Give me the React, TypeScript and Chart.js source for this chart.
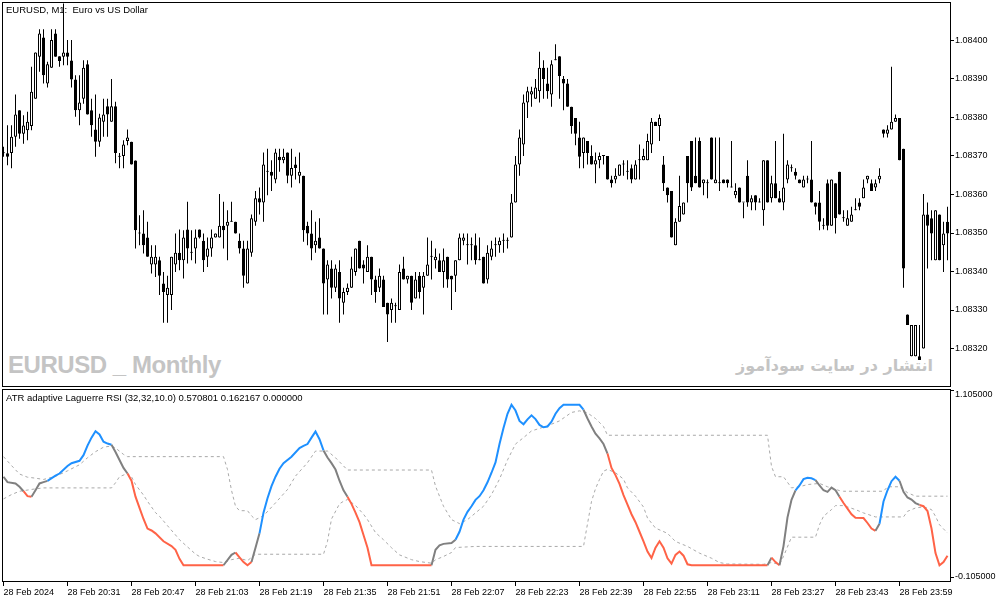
import React, { useEffect, useRef } from 'react';
import Chart from 'chart.js/auto';

// EURUSD M1 candles, bar 0 = 28 Feb 20:15
const open = [
  1.083707, 1.083707, 1.083708, 1.08375, 1.083819, 1.083758, 1.083767, 1.083778, 1.083849, 1.083958,
  1.084008, 1.083888, 1.083929, 1.084018, 1.083959, 1.083958, 1.083969, 1.083948, 1.083899, 1.083819,
  1.083849, 1.083938, 1.083819, 1.083769, 1.083737, 1.083789, 1.083829, 1.083789, 1.083829, 1.083698,
  1.0837, 1.083739, 1.083737, 1.083688, 1.083499, 1.083499, 1.083488, 1.083418, 1.083418, 1.083429,
  1.083369, 1.083339, 1.083339, 1.083418, 1.083449, 1.083429, 1.083509, 1.083449, 1.08346, 1.083509,
  1.08348, 1.083438, 1.08346, 1.083488, 1.083488, 1.083519, 1.083519, 1.083529, 1.083529, 1.08348,
  1.08346, 1.083369, 1.083449, 1.083529, 1.08359, 1.083579, 1.083659, 1.083659, 1.083639, 1.083698,
  1.083689, 1.083709, 1.083649, 1.083678, 1.083649, 1.083649, 1.083519, 1.083499, 1.083468, 1.083488,
  1.08346, 1.083379, 1.083408, 1.083358, 1.083399, 1.083319, 1.083347, 1.083358, 1.083399, 1.08348,
  1.083418, 1.083399, 1.083438, 1.083379, 1.083358, 1.083379, 1.083319, 1.0833, 1.08331, 1.0833,
  1.083408, 1.083379, 1.083389, 1.08333, 1.083389, 1.083358, 1.083389, 1.083438, 1.083429, 1.083429,
  1.083399, 1.083438, 1.083389, 1.083389, 1.083429, 1.08348, 1.083468, 1.083468, 1.083468, 1.083429,
  1.083438, 1.083379, 1.083438, 1.083468, 1.083468, 1.08348, 1.08348, 1.083488, 1.083579, 1.083678,
  1.08373, 1.083839, 1.08386, 1.083849, 1.083868, 1.083929, 1.083888, 1.08386, 1.083949, 1.083959,
  1.0839, 1.083888, 1.083828, 1.083799, 1.083748, 1.083708, 1.083739, 1.0837, 1.083678, 1.083689,
  1.0837, 1.0837, 1.083639, 1.083639, 1.083649, 1.083678, 1.083659, 1.083668, 1.083639, 1.083689,
  1.083689, 1.083689, 1.08373, 1.083789, 1.083778, 1.083678, 1.083618, 1.083609, 1.083468, 1.083529,
  1.083548, 1.0837, 1.083739, 1.083649, 1.083739, 1.083629, 1.083629, 1.083748, 1.083629, 1.083629,
  1.083639, 1.083639, 1.083618, 1.083598, 1.083618, 1.083579, 1.083649, 1.083579, 1.083598, 1.083579,
  1.083559, 1.083689, 1.08359, 1.083629, 1.08359, 1.083579, 1.083639, 1.083668, 1.083659, 1.083639,
  1.083618, 1.083639, 1.083639, 1.083579, 1.083579, 1.083519, 1.083629, 1.083519, 1.083629, 1.083659,
  1.083538, 1.083519, 1.083529, 1.083559, 1.083579, 1.08359, 1.083639, 1.083629, 1.083618, 1.083639,
  1.083769, 1.083758, 1.083769, 1.083789, 1.083799, 1.083719, 1.083288, 1.08318, 1.08318, 1.08318,
  1.0832, 1.083548, 1.083538, 1.083429, 1.083548, 1.083468, 1.083529,
];
const high = [
  1.083724, 1.08378, 1.08378, 1.08386, 1.083819, 1.083806, 1.083815, 1.083932, 1.083969, 1.084029,
  1.084029, 1.083945, 1.084029, 1.084029, 1.083959, 1.084096, 1.084001, 1.084001, 1.08391, 1.08391,
  1.083949, 1.083949, 1.083849, 1.08386, 1.08381, 1.083849, 1.083849, 1.0839, 1.083841, 1.083708,
  1.083741, 1.083769, 1.083737, 1.083688, 1.083546, 1.083559, 1.083529, 1.083468, 1.083468, 1.083438,
  1.083399, 1.083389, 1.083438, 1.083499, 1.083509, 1.083507, 1.083581, 1.083507, 1.083509, 1.083509,
  1.083499, 1.083488, 1.083509, 1.083499, 1.083601, 1.083581, 1.083559, 1.083581, 1.083529, 1.083499,
  1.08348, 1.08348, 1.083548, 1.083609, 1.083618, 1.083709, 1.083719, 1.083689, 1.083719, 1.083719,
  1.083719, 1.083709, 1.083719, 1.083698, 1.083709, 1.083649, 1.083529, 1.083559, 1.083529, 1.083538,
  1.08346, 1.083429, 1.083429, 1.083418, 1.083429, 1.083358, 1.083369, 1.083438, 1.08346, 1.08348,
  1.083429, 1.083468, 1.083438, 1.083389, 1.083408, 1.083389, 1.083319, 1.08333, 1.083319, 1.083418,
  1.083438, 1.083389, 1.083389, 1.083399, 1.083399, 1.083399, 1.083488, 1.08348, 1.08346, 1.083447,
  1.08346, 1.083438, 1.083389, 1.083429, 1.083499, 1.083499, 1.083499, 1.083488, 1.083499, 1.083488,
  1.083438, 1.083468, 1.08348, 1.083488, 1.083488, 1.083499, 1.083488, 1.083601, 1.0837, 1.083769,
  1.08386, 1.08388, 1.08388, 1.0839, 1.083971, 1.083949, 1.083929, 1.083949, 1.08399, 1.083959,
  1.083908, 1.0839, 1.083828, 1.083799, 1.083789, 1.083748, 1.083739, 1.083728, 1.083709, 1.083709,
  1.0837, 1.0837, 1.083649, 1.083668, 1.083678, 1.083689, 1.083689, 1.083678, 1.083689, 1.08373,
  1.083719, 1.083758, 1.083799, 1.083789, 1.083808, 1.0837, 1.083618, 1.083609, 1.083538, 1.083649,
  1.083579, 1.0837, 1.083739, 1.083748, 1.083748, 1.083639, 1.083639, 1.083748, 1.083748, 1.083748,
  1.083639, 1.083639, 1.083739, 1.083629, 1.083618, 1.083579, 1.083689, 1.083598, 1.083598, 1.08359,
  1.083689, 1.083689, 1.083649, 1.083739, 1.083609, 1.083758, 1.083689, 1.083678, 1.083668, 1.083639,
  1.083649, 1.083649, 1.083739, 1.083579, 1.083609, 1.083538, 1.083639, 1.083639, 1.083629, 1.083659,
  1.083559, 1.083559, 1.083568, 1.08359, 1.08359, 1.083639, 1.083649, 1.083639, 1.083639, 1.083668,
  1.083769, 1.08378, 1.083932, 1.083808, 1.083799, 1.083719, 1.083288, 1.083261, 1.083261, 1.083261,
  1.083601, 1.083579, 1.083559, 1.083559, 1.083548, 1.083529, 1.083568,
];
const low = [
  1.083698, 1.083676, 1.083668, 1.083724, 1.083745, 1.083732, 1.083741, 1.083767, 1.083849, 1.083919,
  1.083888, 1.083878, 1.083929, 1.083958, 1.083932, 1.083936, 1.083936, 1.083878, 1.083802, 1.08378,
  1.083836, 1.083808, 1.08375, 1.083698, 1.083724, 1.08375, 1.08375, 1.083789, 1.083681, 1.083668,
  1.083668, 1.083728, 1.083678, 1.08346, 1.083468, 1.083447, 1.083438, 1.083395, 1.083386, 1.083339,
  1.083267, 1.083267, 1.0833, 1.083399, 1.083403, 1.083382, 1.083421, 1.083429, 1.083421, 1.083486,
  1.083399, 1.083412, 1.083438, 1.083488, 1.083488, 1.08346, 1.083429, 1.083529, 1.083499, 1.083447,
  1.083358, 1.083369, 1.083438, 1.083519, 1.083548, 1.083529, 1.083598, 1.083609, 1.083629, 1.083659,
  1.083681, 1.083629, 1.083618, 1.083639, 1.083629, 1.083477, 1.083468, 1.083429, 1.083449, 1.08346,
  1.083288, 1.083288, 1.08333, 1.083347, 1.083267, 1.083288, 1.083339, 1.083358, 1.083389, 1.083408,
  1.083369, 1.083399, 1.083339, 1.083319, 1.083347, 1.083308, 1.083217, 1.083267, 1.083267, 1.0833,
  1.083379, 1.083369, 1.0833, 1.08333, 1.08333, 1.083288, 1.083389, 1.083379, 1.083408, 1.083399,
  1.083358, 1.083358, 1.0833, 1.083347, 1.083429, 1.083468, 1.083418, 1.083429, 1.083418, 1.083429,
  1.083369, 1.083369, 1.083429, 1.083438, 1.083449, 1.083449, 1.08346, 1.083488, 1.083579, 1.083649,
  1.0837, 1.083799, 1.083828, 1.083849, 1.083839, 1.083849, 1.083849, 1.083828, 1.083949, 1.083849,
  1.083819, 1.083828, 1.083758, 1.083728, 1.083668, 1.083668, 1.083678, 1.083678, 1.083629, 1.083668,
  1.083678, 1.083639, 1.083618, 1.083629, 1.083649, 1.083649, 1.083639, 1.083629, 1.083639, 1.083639,
  1.083689, 1.083689, 1.083708, 1.083778, 1.083739, 1.083609, 1.083579, 1.083488, 1.083468, 1.083529,
  1.083548, 1.083579, 1.083609, 1.083629, 1.083618, 1.083598, 1.08359, 1.083639, 1.083629, 1.083609,
  1.083629, 1.083618, 1.083618, 1.08359, 1.083579, 1.083538, 1.083568, 1.083559, 1.083559, 1.083579,
  1.083519, 1.083579, 1.083579, 1.08359, 1.083579, 1.083559, 1.083629, 1.083659, 1.083639, 1.083629,
  1.083618, 1.083629, 1.083579, 1.083548, 1.083507, 1.083509, 1.083507, 1.083519, 1.083499, 1.083548,
  1.083529, 1.083519, 1.083529, 1.083559, 1.083559, 1.08359, 1.083629, 1.083609, 1.083609, 1.083629,
  1.083748, 1.083748, 1.083769, 1.083789, 1.083689, 1.083358, 1.083261, 1.08318, 1.08318, 1.08317,
  1.0832, 1.083408, 1.083429, 1.083429, 1.083429, 1.083399, 1.083429,
];
const close = [
  1.083707, 1.083698, 1.08375, 1.083808, 1.083758, 1.083779, 1.083789, 1.083867, 1.083969, 1.084018,
  1.08391, 1.083938, 1.084001, 1.083958, 1.083947, 1.083969, 1.083958, 1.083899, 1.083819, 1.083839,
  1.083929, 1.083808, 1.08378, 1.083737, 1.0838, 1.083808, 1.083808, 1.083829, 1.083708, 1.083698,
  1.08373, 1.083748, 1.083678, 1.083507, 1.083499, 1.083468, 1.083438, 1.083438, 1.083438, 1.083389,
  1.083347, 1.083358, 1.083438, 1.083449, 1.083429, 1.083488, 1.08346, 1.083449, 1.083488, 1.083488,
  1.083429, 1.08346, 1.083488, 1.083499, 1.083519, 1.083507, 1.083529, 1.083529, 1.083499, 1.08346,
  1.083389, 1.08346, 1.083538, 1.08359, 1.083579, 1.083678, 1.083659, 1.083649, 1.083709, 1.083689,
  1.083698, 1.083649, 1.083669, 1.083669, 1.083659, 1.083507, 1.083499, 1.08346, 1.08348, 1.08346,
  1.083369, 1.083418, 1.083358, 1.083408, 1.08333, 1.083347, 1.083358, 1.083408, 1.08346, 1.083408,
  1.083408, 1.083438, 1.083379, 1.083347, 1.083389, 1.083308, 1.083288, 1.083319, 1.08331, 1.083399,
  1.083379, 1.083389, 1.083319, 1.083379, 1.083347, 1.083389, 1.083418, 1.083438, 1.083438, 1.083399,
  1.083429, 1.083379, 1.083379, 1.083429, 1.083488, 1.083488, 1.083468, 1.083468, 1.083429, 1.083429,
  1.083369, 1.083449, 1.08346, 1.083468, 1.08348, 1.08348, 1.08348, 1.083579, 1.083678, 1.083748,
  1.083839, 1.083868, 1.083868, 1.083878, 1.083929, 1.0839, 1.083868, 1.083938, 1.083949, 1.083908,
  1.083888, 1.083828, 1.083778, 1.083758, 1.083698, 1.083748, 1.083708, 1.083678, 1.083689, 1.0837,
  1.0837, 1.083639, 1.083629, 1.083649, 1.083678, 1.083678, 1.083659, 1.083639, 1.083678, 1.083689,
  1.0837, 1.083739, 1.083789, 1.083778, 1.083799, 1.083629, 1.083598, 1.083488, 1.083529, 1.08357,
  1.083579, 1.083629, 1.083618, 1.083629, 1.083618, 1.083639, 1.083629, 1.083639, 1.083639, 1.083629,
  1.083629, 1.083629, 1.083618, 1.083609, 1.083579, 1.083579, 1.083579, 1.08359, 1.083579, 1.083579,
  1.083689, 1.083579, 1.083629, 1.08359, 1.083579, 1.083618, 1.083678, 1.083668, 1.083649, 1.083629,
  1.083639, 1.083639, 1.083579, 1.083568, 1.083529, 1.083519, 1.083519, 1.083639, 1.083538, 1.083548,
  1.083538, 1.083538, 1.083548, 1.083559, 1.083568, 1.083618, 1.083649, 1.083609, 1.083629, 1.083649,
  1.083758, 1.083769, 1.083789, 1.083799, 1.083689, 1.083408, 1.083261, 1.083261, 1.083261, 1.08317,
  1.083548, 1.083519, 1.083499, 1.083559, 1.083429, 1.083499, 1.083499,
];

const priceTicks = [1.084, 1.0839, 1.0838, 1.0837, 1.0836, 1.0835, 1.0834, 1.0833, 1.0832];
const timeTicks = [
  '28 Feb 2024', '28 Feb 20:31', '28 Feb 20:47', '28 Feb 21:03', '28 Feb 21:19',
  '28 Feb 21:35', '28 Feb 21:51', '28 Feb 22:07', '28 Feb 22:23', '28 Feb 22:39',
  '28 Feb 22:55', '28 Feb 23:11', '28 Feb 23:27', '28 Feb 23:43', '28 Feb 23:59',
];
const levelTicks = [1.105, -0.105];

// [bar, value, trend] trend: 1 up, -1 down, 0 neutral
const laguerre: [number, number, number][] = [
  [0, 0.555, 0], [1, 0.521, 0], [3, 0.513, 0], [4, 0.492, 0], [5, 0.464, -1], [6, 0.433, -1],
  [7, 0.429, 0], [8, 0.47, 0], [9, 0.513, 0], [10, 0.521, 0], [11, 0.529, 1], [13, 0.562, 1],
  [14, 0.575, 1], [16, 0.622, 1], [17, 0.64, 1], [19, 0.655, 1], [20, 0.69, 1], [21, 0.75, 1],
  [22, 0.8, 1], [23, 0.84, 1], [24, 0.82, 1], [25, 0.775, 1], [26, 0.763, 1], [27, 0.755, 0],
  [28, 0.71, 0], [29, 0.66, 0], [30, 0.61, 0], [31, 0.575, -1], [32, 0.53, -1], [33, 0.43, -1],
  [34, 0.36, -1], [35, 0.29, -1], [36, 0.23, -1], [37, 0.218, -1], [38, 0.2, -1], [40, 0.15, -1],
  [42, 0.12, -1], [43, 0.097, -1], [44, 0.04, -1], [45, 0, -1], [55, 0, 0], [57, 0.065, 0],
  [58, 0.08, -1], [59, 0.05, -1], [60, 0.02, -1], [61, 0, -1], [62, 0.02, 0], [63, 0.11, 0],
  [64, 0.2, 1], [65, 0.33, 1], [66, 0.42, 1], [67, 0.496, 1], [68, 0.555, 1], [69, 0.605, 1],
  [70, 0.64, 1], [72, 0.68, 1], [74, 0.735, 1], [75, 0.748, 1], [76, 0.76, 1], [77, 0.8, 1],
  [78, 0.838, 1], [79, 0.79, 1], [80, 0.72, 0], [81, 0.675, 0], [82, 0.64, 0], [83, 0.6, 0],
  [84, 0.53, 0], [85, 0.47, 0], [86, 0.429, -1], [87, 0.385, -1], [88, 0.33, -1], [89, 0.27, -1],
  [90, 0.19, -1], [91, 0.11, -1], [92, 0, -1], [107, 0, 0], [108, 0.097, 0], [109, 0.125, 0],
  [110, 0.134, 0], [112, 0.139, 0], [113, 0.16, 1], [114, 0.21, 1], [115, 0.286, 1], [116, 0.335, 1],
  [117, 0.37, 1], [118, 0.41, 1], [119, 0.433, 1], [120, 0.47, 1], [121, 0.52, 1], [122, 0.58, 1],
  [123, 0.645, 1], [124, 0.76, 1], [125, 0.86, 1], [126, 0.95, 1], [127, 1.006, 1], [128, 0.97, 1],
  [129, 0.905, 1], [130, 0.884, 1], [131, 0.915, 1], [132, 0.94, 1], [133, 0.916, 1], [134, 0.88, 1],
  [135, 0.865, 1], [136, 0.87, 1], [137, 0.9, 1], [138, 0.95, 1], [139, 0.985, 1], [140, 1.006, 1],
  [144, 1.006, 1], [145, 0.975, 0], [146, 0.92, 0], [147, 0.87, 0], [148, 0.825, 0], [149, 0.795, 0],
  [150, 0.76, 0], [151, 0.7, -1], [152, 0.61, -1], [153, 0.565, -1], [154, 0.51, -1], [155, 0.44, -1],
  [156, 0.38, -1], [157, 0.32, -1], [158, 0.27, -1], [159, 0.21, -1], [160, 0.15, -1], [161, 0.086, -1],
  [162, 0.045, -1], [163, 0.11, -1], [164, 0.15, -1], [165, 0.11, -1], [166, 0.044, -1], [167, 0.01, -1],
  [168, 0.065, -1], [169, 0.086, -1], [170, 0.06, -1], [171, 0.006, -1], [172, 0, -1], [191, 0, 0],
  [192, 0.048, -1], [193, 0.02, -1], [194, 0, 0], [195, 0.12, 0], [196, 0.3, 0], [197, 0.41, 0],
  [198, 0.47, 1], [199, 0.5, 1], [200, 0.54, 1], [201, 0.548, 1], [202, 0.545, 1], [203, 0.534, 0],
  [204, 0.5, 0], [205, 0.47, 0], [206, 0.46, 0], [207, 0.487, 0], [208, 0.47, 0], [209, 0.43, -1],
  [210, 0.39, -1], [211, 0.355, -1], [212, 0.32, -1], [213, 0.298, -1], [215, 0.296, -1], [216, 0.265, -1],
  [217, 0.23, -1], [218, 0.216, 0], [219, 0.26, 1], [220, 0.4, 1], [221, 0.47, 1], [222, 0.527, 1],
  [223, 0.555, 1], [224, 0.53, 0], [225, 0.46, 0], [226, 0.425, 0], [227, 0.412, 0], [228, 0.39, 0],
  [229, 0.378, -1], [230, 0.37, -1], [231, 0.34, -1], [232, 0.23, -1], [233, 0.076, -1], [234, 0, -1],
  [235, 0.02, -1], [236, 0.06, -1],
];

const levelUp: [number, number][] = [
  [0, 0.681], [2, 0.625], [4, 0.572], [6, 0.552], [8, 0.546], [10, 0.538], [13, 0.557], [16, 0.592],
  [19, 0.63], [21, 0.674], [23, 0.712], [25, 0.74], [27, 0.748], [28, 0.735], [29, 0.715], [30, 0.695],
  [31, 0.681], [55, 0.681], [56, 0.6], [57, 0.47], [58, 0.37], [59, 0.342], [61, 0.342], [62, 0.31],
  [63, 0.286], [65, 0.31], [68, 0.391], [71, 0.475], [73, 0.559], [76, 0.643], [78, 0.716], [81, 0.716],
  [83, 0.674], [86, 0.597], [107, 0.597], [108, 0.496], [110, 0.37], [112, 0.286], [114, 0.261],
  [116, 0.286], [117, 0.307], [120, 0.37], [122, 0.443], [124, 0.54], [126, 0.66], [128, 0.76],
  [130, 0.8], [132, 0.842], [136, 0.874], [139, 0.905], [142, 0.958], [144, 0.968], [146, 0.955],
  [148, 0.92], [150, 0.87], [151, 0.815], [191, 0.815], [192, 0.62], [193, 0.555], [195, 0.555],
  [197, 0.485], [199, 0.492], [201, 0.506], [204, 0.513], [206, 0.492], [209, 0.468], [210, 0.464],
  [220, 0.464], [221, 0.492], [224, 0.492], [226, 0.455], [228, 0.433], [236, 0.433],
];

const levelDown: [number, number][] = [
  [0, 0.416], [2, 0.443], [4, 0.464], [8, 0.479], [10, 0.485], [27, 0.485], [28, 0.517], [29, 0.555],
  [31, 0.576], [32, 0.555], [33, 0.506], [35, 0.44], [36, 0.401], [38, 0.33], [39, 0.307], [41, 0.248],
  [43, 0.19], [44, 0.16], [46, 0.115], [48, 0.07], [49, 0.055], [51, 0.038], [53, 0.023], [55, 0.017],
  [57, 0.035], [59, 0.044], [61, 0.029], [63, 0.069], [80, 0.069], [81, 0.15], [82, 0.29], [84, 0.385],
  [85, 0.401], [86, 0.412], [88, 0.375], [90, 0.32], [91, 0.286], [93, 0.205], [95, 0.16], [97, 0.11],
  [99, 0.065], [102, 0.035], [104, 0.023], [107, 0.013], [108, 0.034], [110, 0.055], [112, 0.08],
  [113, 0.111], [118, 0.118], [145, 0.118], [146, 0.26], [147, 0.4], [148, 0.48], [149, 0.538],
  [150, 0.59], [151, 0.601], [153, 0.58], [155, 0.54], [156, 0.485], [158, 0.433], [160, 0.365],
  [161, 0.296], [163, 0.233], [166, 0.2], [168, 0.149], [171, 0.118], [174, 0.076], [177, 0.044],
  [179, 0.017], [181, 0.008], [190, 0.006], [192, 0.017], [194, 0.006], [195, 0.055], [197, 0.176],
  [203, 0.176], [204, 0.254], [205, 0.307], [207, 0.349], [208, 0.374], [210, 0.374], [213, 0.349],
  [215, 0.328], [218, 0.303], [225, 0.303], [226, 0.338], [228, 0.359], [230, 0.366], [232, 0.349],
  [233, 0.307], [234, 0.254], [236, 0.202],
];

const FONT = '"Liberation Sans", Arial, sans-serif';
const trendColor = (t: number) => (t > 0 ? '#1E90FF' : t < 0 ? '#FF6347' : '#808080');

// black frame round the plot area, like the terminal draws it
const framePlugin = {
  id: 'frame',
  afterDraw(chart: any) {
    const { ctx, chartArea } = chart;
    const { left, top, right, bottom } = chartArea;
    ctx.save();
    ctx.strokeStyle = '#000';
    ctx.lineWidth = 1;
    ctx.strokeRect(left + 0.5, top + 0.5, right - left, bottom - top - 1);
    ctx.restore();
  },
};

// the indicator window only labels its min and max, pulled inside the window
const levelLabelsPlugin = {
  id: 'levelLabels',
  afterDraw(chart: any) {
    const { ctx, chartArea } = chart;
    const { top, bottom, right } = chartArea;
    const spots = [
      { tick: top + 1.5, text: top + 5.5 },
      { tick: bottom - 4.5, text: bottom - 5.5 },
    ];
    ctx.save();
    ctx.fillStyle = '#000';
    ctx.strokeStyle = '#000';
    ctx.lineWidth = 1;
    ctx.font = `9px ${FONT}`;
    ctx.textBaseline = 'middle';
    levelTicks.forEach((v, k) => {
      const s = spots[k];
      ctx.beginPath();
      ctx.moveTo(right, s.tick);
      ctx.lineTo(right + 4, s.tick);
      ctx.stroke();
      ctx.fillText(v.toFixed(6), right + 5, s.text);
    });
    ctx.restore();
  },
};

const X_MIN = -0.375;
const X_MAX = open.length - 0.375;

// fixed axis sizes so the plot areas land where the terminal puts them
const fixRightAxis = (s: any) => {
  s.width = 53;
  s.paddingTop = 0;
  s.paddingBottom = 0;
};

const App = () => {
  const priceRef = useRef<HTMLCanvasElement | null>(null);
  const rsiRef = useRef<HTMLCanvasElement | null>(null);

  useEffect(() => {
    const bars = open.map((_, i) => i);

    const priceChart = new Chart(priceRef.current as any, {
      type: 'bar',
      data: {
        datasets: [
          {
            data: bars.map(i => ({ x: i, y: [open[i], close[i]] })) as any,
            grouped: false,
            barThickness: 3,
            minBarLength: 1,
            borderWidth: 1,
            borderColor: '#000',
            borderSkipped: false,
            inflateAmount: 0,
            backgroundColor: (c: any) => (close[c.dataIndex] >= open[c.dataIndex] ? '#fff' : '#000'),
          },
          {
            data: bars.map(i => ({ x: i, y: [low[i], high[i]] })) as any,
            grouped: false,
            barThickness: 1,
            minBarLength: 1,
            borderWidth: 0,
            inflateAmount: 0,
            backgroundColor: '#000',
          },
        ],
      },
      options: {
        responsive: false,
        animation: false,
        events: [],
        layout: { padding: { left: 2, top: 2, right: 0, bottom: 1 } },
        plugins: { legend: { display: false }, tooltip: { enabled: false } },
        scales: {
          x: { type: 'linear', display: false, min: X_MIN, max: X_MAX, offset: false },
          y: {
            position: 'right',
            min: 1.0831,
            max: 1.0841,
            afterFit: fixRightAxis,
            afterBuildTicks: (s: any) => { s.ticks = priceTicks.map(v => ({ value: v })); },
            border: { display: false },
            grid: { drawOnChartArea: false, drawTicks: true, tickLength: 4, color: '#000' },
            ticks: {
              padding: 1,
              color: '#000',
              font: { family: FONT, size: 9 },
              callback: (v: any) => Number(v).toFixed(5),
            },
          },
        },
      },
      plugins: [framePlugin],
    });

    const rsiChart = new Chart(rsiRef.current as any, {
      type: 'line',
      data: {
        datasets: [
          {
            data: laguerre.map(([x, y]) => ({ x, y })),
            borderWidth: 2,
            pointRadius: 0,
            tension: 0,
            borderColor: '#808080',
            segment: { borderColor: (c: any) => trendColor(laguerre[c.p0DataIndex][2]) },
          },
          {
            data: levelUp.map(([x, y]) => ({ x, y })),
            borderWidth: 1,
            borderDash: [3, 3],
            borderColor: '#A9A9A9',
            pointRadius: 0,
            tension: 0,
          },
          {
            data: levelDown.map(([x, y]) => ({ x, y })),
            borderWidth: 1,
            borderDash: [3, 3],
            borderColor: '#A9A9A9',
            pointRadius: 0,
            tension: 0,
          },
        ],
      },
      options: {
        responsive: false,
        animation: false,
        events: [],
        layout: { padding: { left: 2, top: 1, right: 0, bottom: 0 } },
        plugins: { legend: { display: false }, tooltip: { enabled: false } },
        scales: {
          x: {
            type: 'linear',
            min: X_MIN,
            max: X_MAX,
            offset: false,
            afterFit: (s: any) => {
              s.height = 21;
              s.paddingLeft = 0;
              s.paddingRight = 0;
            },
            afterBuildTicks: (s: any) => { s.ticks = timeTicks.map((_, k) => ({ value: k * 16 })); },
            border: { display: false },
            grid: { drawOnChartArea: false, drawTicks: true, tickLength: 4, color: '#000' },
            ticks: {
              autoSkip: false,
              maxRotation: 0,
              minRotation: 0,
              align: 'start',
              padding: 1,
              color: '#000',
              font: { family: FONT, size: 9 },
              callback: (v: any) => timeTicks[Math.round(Number(v) / 16)],
            },
          },
          y: {
            position: 'right',
            min: -0.105,
            max: 1.105,
            afterFit: fixRightAxis,
            border: { display: false },
            grid: { display: false },
            ticks: { display: false },
          },
        },
      },
      plugins: [framePlugin, levelLabelsPlugin],
    });

    return () => {
      priceChart.destroy();
      rsiChart.destroy();
    };
  }, []);

  return (
    <div
      style={{
        position: 'fixed',
        left: 0,
        top: 0,
        width: 1003,
        height: 603,
        background: '#fff',
        overflow: 'hidden',
        fontFamily: FONT,
      }}
    >
      <div
        style={{
          position: 'absolute', left: 8, top: 353, fontSize: 24, lineHeight: '24px',
          fontWeight: 'bold', color: '#C4C4C4', whiteSpace: 'pre', letterSpacing: -0.45,
        }}
      >
        EURUSD _ Monthly
      </div>
      <div
        dir="rtl"
        style={{
          position: 'absolute', right: 70, top: 358, fontSize: 16, lineHeight: '16px',
          fontWeight: 'bold', color: '#C4C4C4', whiteSpace: 'pre', fontFamily: '"DejaVu Sans", sans-serif',
        }}
      >
        انتشار در سایت سودآموز
      </div>
      <canvas ref={priceRef} width={1003} height={388} style={{ position: 'absolute', left: 0, top: 0 }} />
      <canvas ref={rsiRef} width={1003} height={215} style={{ position: 'absolute', left: 0, top: 388 }} />
      <div
        style={{
          position: 'absolute', left: 6, top: 5, fontSize: 9.5, lineHeight: '9.5px',
          color: '#000', whiteSpace: 'pre',
        }}
      >
        EURUSD, M1:  Euro vs US Dollar
      </div>
      <div
        style={{
          position: 'absolute', left: 6, top: 393, fontSize: 9.5, lineHeight: '9.5px',
          color: '#000', whiteSpace: 'pre',
        }}
      >
        ATR adaptive Laguerre RSI (32,32,10.0) 0.570801 0.162167 0.000000
      </div>
    </div>
  );
};

export default App;
